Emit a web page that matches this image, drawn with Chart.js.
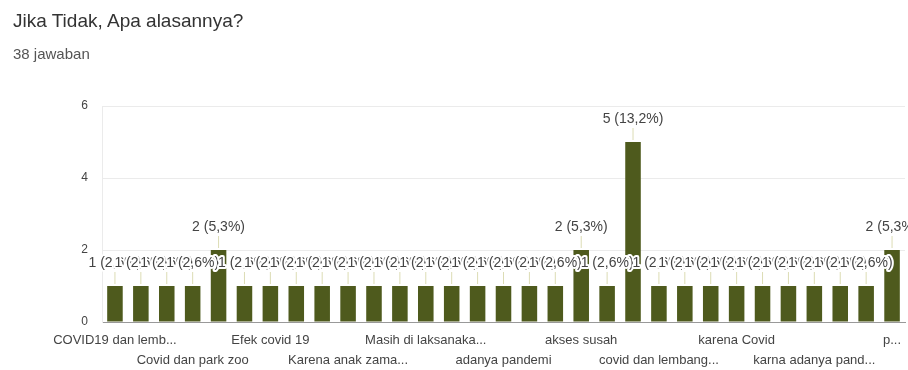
<!DOCTYPE html>
<html>
<head>
<meta charset="utf-8">
<script src="https://cdn.jsdelivr.net/npm/chart.js@4"></script>
<style>
  html, body { margin: 0; padding: 0; background: #fff; }
  #wrap { position: relative; width: 908px; height: 370px; }
  #judul { position: absolute; left: 13px; top: 10px; font: 19px "Liberation Sans", Arial, sans-serif; color: #333; white-space: nowrap; }
  #jumlah { position: absolute; left: 13px; top: 45px; font: 15px "Liberation Sans", Arial, sans-serif; color: #555; white-space: nowrap; }
  canvas { position: absolute; left: 0; top: 0; }
</style>
</head>
<body>
<div id="wrap">
  <canvas id="grafik" width="908" height="370"></canvas>
  <div id="judul">Jika Tidak, Apa alasannya?</div>
  <div id="jumlah">38 jawaban</div>
</div>
<script>
// kategori (hanya label yang terbaca di gambar, sisanya kosong)
const kategori = [
  "COVID19 dan lemb...", "", "", "Covid dan park zoo", "", "", "Efek covid 19", "", "",
  "Karena anak zama...", "", "", "Masih di laksanaka...", "", "", "adanya pandemi", "", "",
  "akses susah", "", "", "covid dan lembang...", "", "", "karena Covid", "", "",
  "karna adanya pand...", "", "", "p..."
];
const jumlah = [1, 1, 1, 1, 2, 1, 1, 1, 1, 1, 1, 1, 1, 1, 1, 1, 1, 1, 2, 1, 5, 1, 1, 1, 1, 1, 1, 1, 1, 1, 2];
const totalJawaban = 38;
const tickY = [0, 2, 4, 6];

const FONT = '"Liberation Sans", Arial, sans-serif';

// === PLUGIN LABEL ANOTASI DI ATAS BATANG ===
const labelPlugin = {
  id: "labelBatang",
  afterDatasetsDraw(chart) {
    const ctx = chart.ctx;
    const meta = chart.getDatasetMeta(0);
    ctx.save();
    ctx.font = "14px " + FONT;
    ctx.textAlign = "center";
    ctx.textBaseline = "middle";
    meta.data.forEach((bar, i) => {
      const v = jumlah[i];
      const persen = (v / totalJawaban * 100).toFixed(1).replace(".", ",");
      const teks = v + " (" + persen + "%)";
      // garis kecil
      ctx.beginPath();
      ctx.moveTo(bar.x, bar.y - 2);
      ctx.lineTo(bar.x, bar.y - 14);
      ctx.strokeStyle = "#dcdcb4";
      ctx.lineWidth = 1;
      ctx.stroke();
      // teks dengan halo putih
      const ty = bar.y - 23;
      ctx.lineWidth = 4;
      ctx.strokeStyle = "#ffffff";
      ctx.lineJoin = "round";
      ctx.strokeText(teks, bar.x, ty);
      ctx.fillStyle = "#444";
      ctx.fillText(teks, bar.x, ty);
    });
    ctx.restore();
  }
};

new Chart(document.getElementById("grafik"), {
  type: "bar",
  data: {
    labels: kategori,
    datasets: [{
      data: jumlah,
      backgroundColor: "#4e5a1d",
      borderWidth: 0,
      barPercentage: 0.6,
      categoryPercentage: 1.0
    }]
  },
  options: {
    responsive: false,
    animation: false,
    layout: { padding: { top: 106, right: 3, left: 0, bottom: 0 } },
    plugins: {
      legend: { display: false },
      tooltip: { enabled: false }
    },
    scales: {
      x: {
        offset: true,
        grid: { display: false },
        border: { color: "#999" },
        afterFit(scale) { scale.height = 48; },
        ticks: {
          autoSkip: false,
          maxRotation: 0,
          minRotation: 0,
          padding: 1,
          color: "#444",
          font: { size: 13, family: FONT, lineHeight: 1.5 },
          callback(v, i) {
            const t = kategori[i];
            if (!t) return "";
            return (i / 3) % 2 ? ["", t] : t;
          }
        }
      },
      y: {
        min: 0,
        max: 6,
        afterFit(scale) { scale.width = 102; },
        afterBuildTicks(scale) { scale.ticks = tickY.map(v => ({ value: v })); },
        grid: {
          color: ctx => ctx.tick && ctx.tick.value === 0 ? "#999" : "#ebebeb",
          drawTicks: false
        },
        border: { color: "#ebebeb" },
        ticks: {
          padding: 14,
          color: "#444",
          font: { size: 12, family: FONT }
        }
      }
    }
  },
  plugins: [labelPlugin]
});
</script>
</body>
</html>
